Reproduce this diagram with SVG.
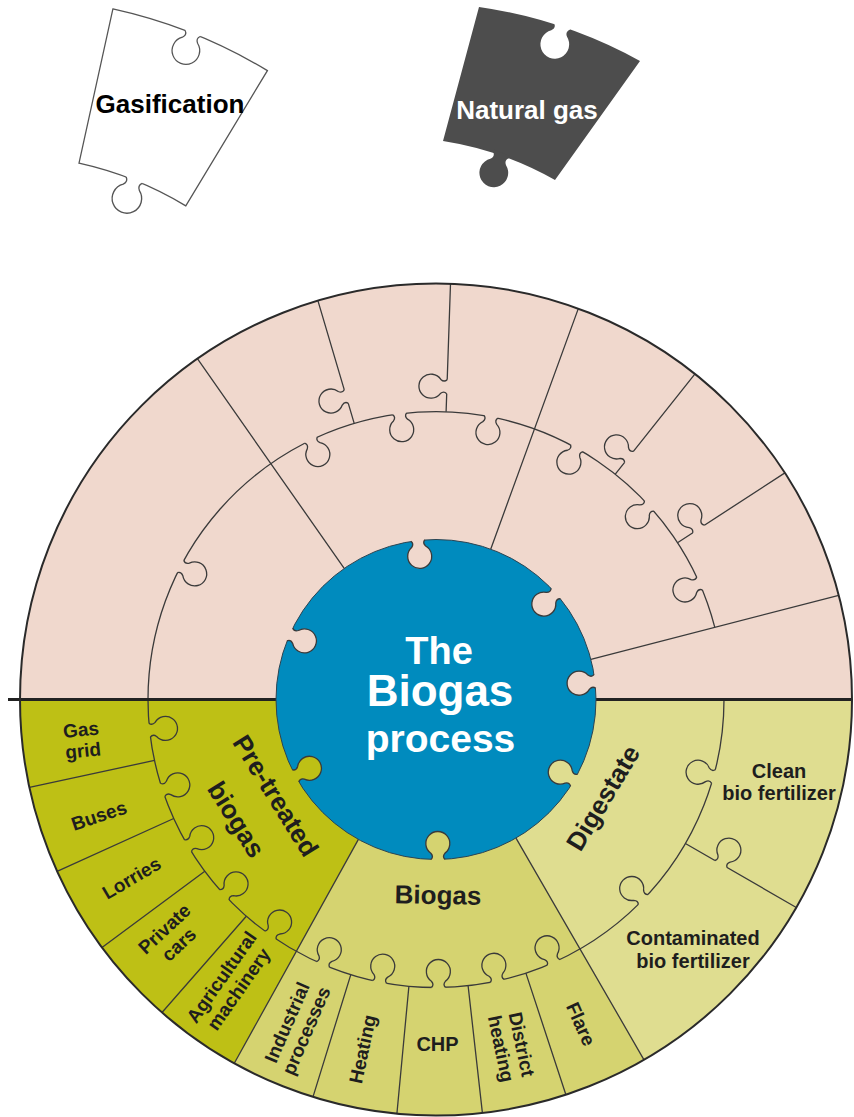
<svg xmlns="http://www.w3.org/2000/svg" xmlns:xlink="http://www.w3.org/1999/xlink" width="854" height="1117" viewBox="0 0 854 1117">
<style>
.ln{fill:none;stroke:#3a3a3a;stroke-width:1.3}
.rim{fill:none;stroke:#2a2a2a;stroke-width:2}
.sep{fill:none;stroke:#222;stroke-width:3}
.k{stroke:#3a3a3a;stroke-width:1.3}
.pk{fill:#F0D8CD}
.c1{fill:#BEC015}
.c2{fill:#D5D370}
.c3{fill:#DFDD90}
text{font-family:"Liberation Sans",Arial,Helvetica,sans-serif;font-weight:bold;text-anchor:middle}
.lb{font-size:19px;fill:#1e1e1e}
.lb2{font-size:20px;fill:#1e1e1e}
.tt{font-size:26px;fill:#1e1e1e}
.hub{fill:#ffffff}
</style>
<defs>
<path id="kf" stroke="none" d="M-7,2 L-7,0 C-5,-2 -5,-4 -7.07,-6.3 A12,12 0 1 1 7.07,-6.3 C5,-4 5,-2 7,0 L7,2 Z"/>
<path id="kl" fill="none" d="M-7,0 C-5,-2 -5,-4 -7.07,-6.3 A12,12 0 1 1 7.07,-6.3 C5,-4 5,-2 7,0"/>
<g id="knob"><use href="#kf"/><use href="#kl"/></g>
</defs>

<g id="gasification">
<path d="M112.9,8.9 A512,512 0 0 1 267.4,70.6 L185.8,205.9 A354,354 0 0 0 79,163.2 Z" fill="#fff" stroke="#555" stroke-width="1.3"/>
<use href="#knob" fill="#fff" stroke="#555" stroke-width="1.1" transform="translate(192.7,33.5) rotate(-158.25) scale(1.15)"/>
<use href="#knob" fill="#fff" stroke="#555" stroke-width="1.1" transform="translate(134.2,180.2) rotate(-158.25) scale(1.23)"/>
<text x="170" y="113" font-size="26" fill="#000">Gasification</text>
</g>

<g id="natural-gas">
<path d="M479,7 A470,470 0 0 1 640,61 L555,180 A330,330 0 0 0 443,141 Z" fill="#4d4d4d"/>
<use href="#knob" fill="#fff" stroke="none" transform="translate(562,26.5) rotate(-158) scale(1.2)"/>
<use href="#knob" fill="#4d4d4d" stroke="none" transform="translate(501,155) rotate(-158) scale(1.2)"/>
<text x="527" y="119" font-size="26" fill="#fff">Natural gas</text>
</g>

<g id="wheel-fills">
<circle class="pk" cx="436" cy="699.5" r="416"/>
<path class="c1" d="M436,699.5 L234.3,1063.3 A416,416 0 0 1 20,699.5 Z"/>
<path class="c2" d="M436,699.5 L644,1059.8 A416,416 0 0 1 234.3,1063.3 Z"/>
<path class="c3" d="M436,699.5 L852,699.5 A416,416 0 0 1 644,1059.8 Z"/>
</g>

<g id="connectors">
<path class="ln" d="M148,699.5 A288,288 0 0 1 714.8,627.4"/>
<path class="ln" d="M724,699.5 A288,288 0 0 1 148,699.5"/>
<path class="ln" d="M344.2,568.4 L197.4,358.7 M354.2,423.4 L317.9,300.6 M446.1,411.7 L450.5,283.7 M490.7,549.2 L578.3,308.6 M615.3,474.1 L695,373.9 M677.5,542.7 L784.9,472.9 M590.9,659.4 L838.7,595.3"/>
<path class="ln" d="M154.5,760.4 L29.4,787.4 M173.7,818.5 L57.1,871.4 M204.8,871.2 L102,947.5 M246.3,916.2 L162,1012.5 M358.4,839.4 L234.3,1063.3 M350.8,974.6 L313,1096.9 M408.9,986.2 L396.9,1113.7 M468.1,985.7 L482.4,1112.9 M525.9,973.1 L565.9,1094.7 M516,838.1 L644,1059.8 M685.4,843.5 L796.3,907.5"/>
<path class="sep" d="M8,699.5 L852,699.5"/>
<circle class="rim" cx="436" cy="699.5" r="416"/>
</g>

<g id="hub">
<circle cx="436" cy="699.5" r="160" fill="#008BBE" stroke="#2c4452" stroke-width="1"/>
<text class="hub"><tspan x="439" y="664" font-size="38">The</tspan><tspan x="440" y="706" font-size="44">Biogas</tspan><tspan x="440.5" y="751.5" font-size="39">process</tspan></text>
</g>

<g id="pink-inner-180-235"><use href="#knob" class="k pk" transform="translate(289.8,634.4) rotate(114)"/></g>
<g id="pink-inner-235-290"><use href="#knob" class="k pk" transform="translate(417.9,540.5) rotate(173.5)"/></g>
<g id="pink-inner-290-345"><use href="#knob" class="k pk" transform="translate(555.8,593.5) rotate(228.5)"/></g>
<g id="pink-sector-345-360"><use href="#knob" class="k pk" transform="translate(595,681.4) rotate(263.5)"/></g>

<g id="pink-outer-180-235"><use href="#knob" class="k pk" transform="translate(180.5,566.5) rotate(117.5)"/></g>
<g id="pink-outer-235-253"><use href="#knob" class="k pk" transform="translate(310.9,440.1) rotate(154.25)"/></g>
<g id="pink-outer-253-272"><use href="#knob" class="k pk" transform="translate(399.7,413.8) rotate(172.75)"/><use href="#knob" class="k pk" transform="translate(346.3,396.5) rotate(253.5)"/></g>
<g id="pink-outer-272-290"><use href="#knob" class="k pk" transform="translate(491,416.8) rotate(191)"/><use href="#knob" class="k pk" transform="translate(446.9,386.7) rotate(272)"/></g>
<g id="pink-outer-290-308"><use href="#knob" class="k pk" transform="translate(576.7,448.2) rotate(209.25)"/></g>
<g id="pink-outer-308-327"><use href="#knob" class="k pk" transform="translate(649.2,505.9) rotate(227.75)"/><use href="#knob" class="k pk" transform="translate(629,456.9) rotate(308.5)"/></g>
<g id="pink-outer-327-345"><use href="#knob" class="k pk" transform="translate(699.6,583.5) rotate(246.25)"/><use href="#knob" class="k pk" transform="translate(698.5,529) rotate(327)"/></g>

<g id="pre-treated-biogas">
<use href="#knob" class="k c1" transform="translate(295.4,775.9) rotate(61.5)"/>
<text class="tt" transform="translate(275.7,795.8) rotate(58)" y="9">Pre-treated</text>
<text class="tt" transform="translate(236.3,819.5) rotate(58)" y="9">biogas</text>
</g>
<g id="gas-grid">
<use href="#knob" class="k c1" transform="translate(149.6,730.1) rotate(83.9)"/>
<g transform="translate(82,740) rotate(-6)"><text class="lb" y="-3.8">Gas</text><text class="lb" y="17.2">grid</text></g>
</g>
<g id="buses">
<use href="#knob" class="k c1" transform="translate(162.6,789.9) rotate(71.7)"/>
<text class="lb" transform="translate(99,815.5) rotate(-18.5)" y="6.7">Buses</text>
</g>
<g id="lorries">
<use href="#knob" class="k c1" transform="translate(187.9,845.7) rotate(59.5)"/>
<text class="lb" transform="translate(131.5,878) rotate(-30.5)" y="6.7">Lorries</text>
</g>
<g id="private-cars">
<use href="#knob" class="k c1" transform="translate(224.3,894.8) rotate(47.3)"/>
<g transform="translate(171.5,936.5) rotate(-43)"><text class="lb" y="-3.8">Private</text><text class="lb" y="17.2">cars</text></g>
</g>
<g id="agricultural-machinery">
<use href="#knob" class="k c1" transform="translate(270.4,935.1) rotate(35.1)"/>
<g transform="translate(230,983) rotate(-55)"><text class="lb" y="-3.8">Agricultural</text><text class="lb" y="17.2">machinery</text></g>
</g>

<g id="biogas">
<use href="#knob" class="k c2" transform="translate(438,859.5) rotate(-0.7)"/>
<text class="tt" transform="translate(438,895) rotate(1)" y="9">Biogas</text>
</g>
<g id="industrial-processes">
<use href="#knob" class="k c2" transform="translate(323,964.4) rotate(23.1)"/>
<g transform="translate(296.5,1026.5) rotate(-66.5)"><text class="lb" y="-3.8">Industrial</text><text class="lb" y="17.2">processes</text></g>
</g>
<g id="heating">
<use href="#knob" class="k c2" transform="translate(379.6,981.9) rotate(11.3)"/>
<text class="lb" transform="translate(362.5,1049) rotate(-78)" y="6.7">Heating</text>
</g>
<g id="chp">
<use href="#knob" class="k c2" transform="translate(438.5,987.5) rotate(-0.5)"/>
<text class="lb2" x="437.5" y="1051">CHP</text>
</g>
<g id="district-heating">
<use href="#knob" class="k c2" transform="translate(497.3,980.9) rotate(-12.3)"/>
<g transform="translate(511.5,1046.5) rotate(78)"><text class="lb" y="-3.8">District</text><text class="lb" y="17.2">heating</text></g>
</g>
<g id="flare">
<use href="#knob" class="k c2" transform="translate(553.6,962.4) rotate(-24.1)"/>
<text class="lb" transform="translate(581,1024) rotate(66)" y="6.7">Flare</text>
</g>

<g id="digestate">
<use href="#knob" class="k c3" transform="translate(574.1,780.2) rotate(-59.7)"/>
<text class="tt" transform="translate(603,798) rotate(-59)" y="9">Digestate</text>
</g>
<g id="clean-bio-fertilizer">
<use href="#knob" class="k c3" transform="translate(713.5,776.5) rotate(-74.5)"/>
<text class="lb2" x="779" y="777.7">Clean</text>
<text class="lb2" x="779" y="800">bio fertilizer</text>
</g>
<g id="contaminated-bio-fertilizer">
<use href="#knob" class="k c3" transform="translate(643.2,899.6) rotate(-46)"/>
<use href="#knob" class="k c3" transform="translate(720.9,864) rotate(30)"/>
<text class="lb2" x="693" y="945">Contaminated</text>
<text class="lb2" x="693" y="968">bio fertilizer</text>
</g>
</svg>
